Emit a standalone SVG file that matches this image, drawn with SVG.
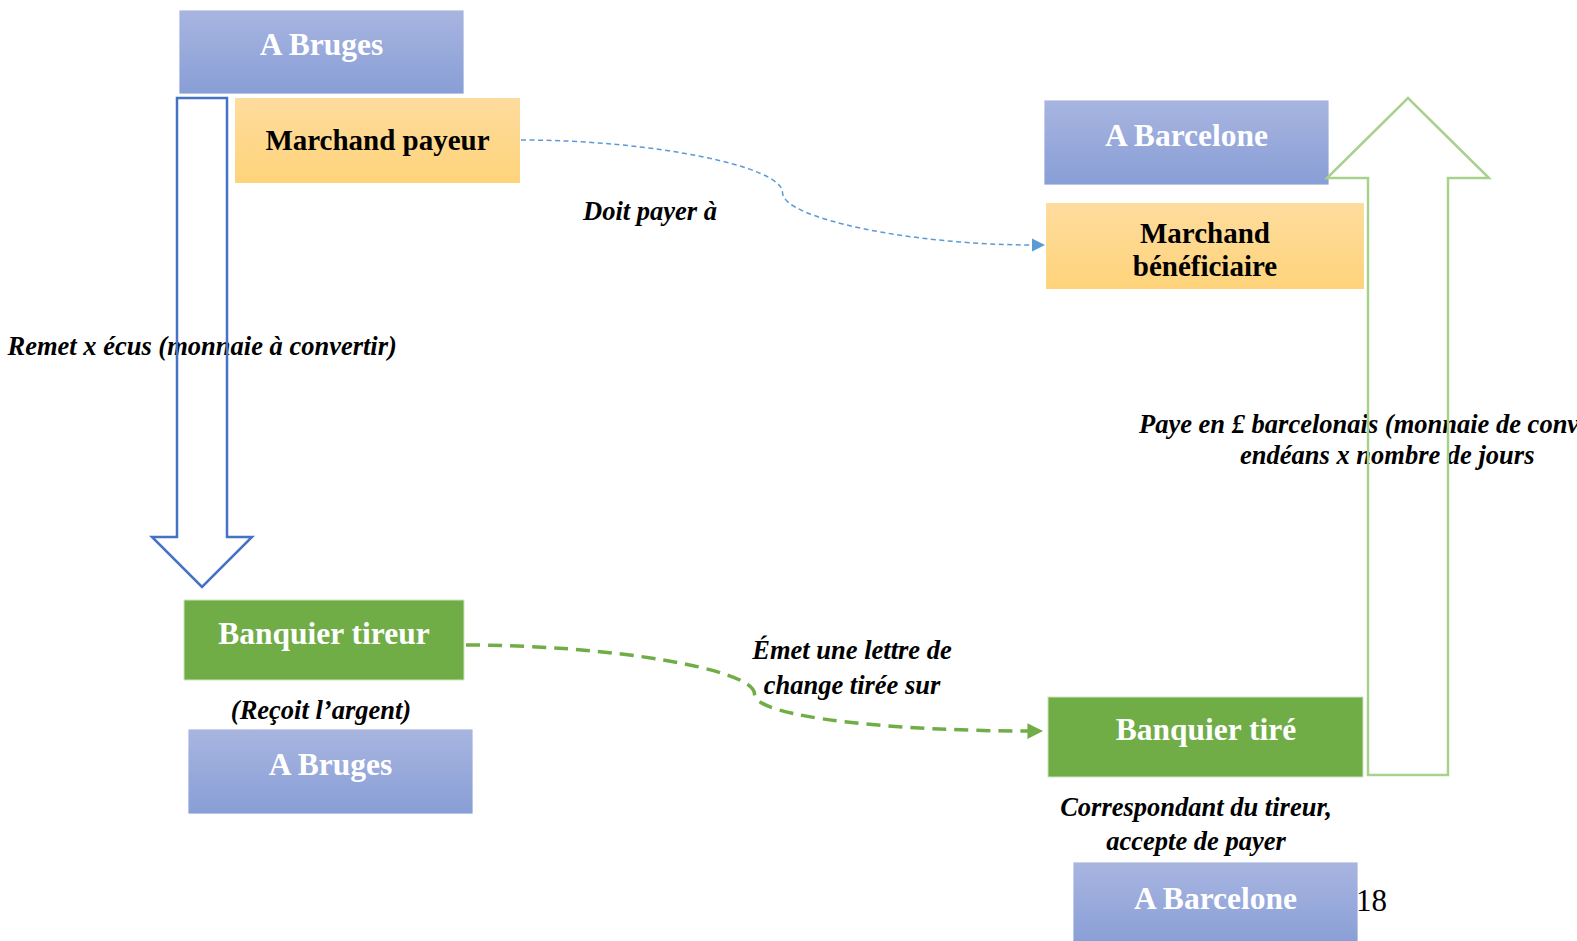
<svg xmlns="http://www.w3.org/2000/svg" width="1577" height="941" viewBox="0 0 1577 941">
<defs>
<linearGradient id="gBlue" x1="0" y1="0" x2="0" y2="1"><stop offset="0" stop-color="#a8b5e0"/><stop offset="1" stop-color="#889ed6"/></linearGradient>
<linearGradient id="gOrange" x1="0" y1="0" x2="0" y2="1"><stop offset="0" stop-color="#fedc9e"/><stop offset="1" stop-color="#fed37a"/></linearGradient>
<marker id="mBlue" viewBox="0 0 10 10" refX="1" refY="5" markerWidth="9" markerHeight="9" orient="auto" markerUnits="strokeWidth"><path d="M0,0 L10,5 L0,10 z" fill="#5b9bd5"/></marker>
<marker id="mGreen" viewBox="0 0 10 10" refX="1" refY="5" markerWidth="4.5" markerHeight="4.5" orient="auto" markerUnits="strokeWidth"><path d="M0,0 L10,5 L0,10 z" fill="#70ad47"/></marker>
<style>
.blue{fill:url(#gBlue);stroke:#ffffff;stroke-width:0.8}
.orange{fill:url(#gOrange)}
.green{fill:#70ad47;stroke:#cfe3c1;stroke-width:1}
.t{font-family:"Liberation Serif","Times New Roman",serif;font-weight:bold;text-anchor:middle}
.w{fill:#ffffff;font-size:31.5px}
.k{fill:#000000;font-size:29px}
.lab{font-family:"Liberation Serif","Times New Roman",serif;font-weight:bold;font-style:italic;font-size:26.5px;fill:#000000}
.n{font-family:"Liberation Serif","Times New Roman",serif;font-size:31px;fill:#000000}
</style>
</defs>
<rect width="1577" height="941" fill="#ffffff"/>

<g id="node-bruges-top"><rect class="blue" x="179" y="10" width="285" height="84"/><text class="t w" x="321.5" y="54.5">A Bruges</text></g>
<g id="node-marchand-payeur"><rect class="orange" x="235" y="98" width="285" height="85"/><text class="t k" x="377.5" y="150">Marchand payeur</text></g>
<g id="node-barcelone-top"><rect class="blue" x="1044" y="100" width="285" height="85"/><text class="t w" x="1186.5" y="146">A Barcelone</text></g>
<g id="node-marchand-beneficiaire"><rect class="orange" x="1046" y="203" width="318" height="86"/><text class="t k" x="1205" y="242.5">Marchand</text><text class="t k" x="1205" y="276">bénéficiaire</text></g>
<g id="node-banquier-tireur"><rect class="green" x="184" y="600" width="280" height="80"/><text class="t w" x="324" y="644">Banquier tireur</text></g>
<g id="node-bruges-bottom"><rect class="blue" x="188" y="729" width="285" height="85"/><text class="t w" x="330.5" y="775">A Bruges</text></g>
<g id="node-banquier-tire"><rect class="green" x="1048" y="697" width="315" height="80"/><text class="t w" x="1206" y="740">Banquier tiré</text></g>
<g id="node-barcelone-bottom"><rect class="blue" x="1073" y="862" width="285" height="85"/><text class="t w" x="1215.5" y="909">A Barcelone</text></g>

<g id="labels">
<text class="lab" x="7.5" y="355">Remet x écus (monnaie à convertir)</text>
<text class="lab" x="583" y="220">Doit payer à</text>
<text class="lab" x="852" y="659" text-anchor="middle">Émet une lettre de</text>
<text class="lab" x="852" y="694" text-anchor="middle">change tirée sur</text>
<text class="lab" x="321" y="719" text-anchor="middle">(Reçoit l’argent)</text>
<text class="lab" x="1196" y="816" text-anchor="middle">Correspondant du tireur,</text>
<text class="lab" x="1196" y="850" text-anchor="middle">accepte de payer</text>
<text class="lab" x="1139" y="433">Paye en £ barcelonais (monnaie de conversion)</text>
<text class="lab" x="1240" y="464">endéans x nombre de jours</text>
<text class="n" x="1356" y="911">18</text>
</g>

<g id="connectors" fill="none">
<path d="M177,98 L227,98 L227,537 L252,537 L202,587 L152,537 L177,537 Z" stroke="#4472c4" stroke-width="2.5"/>
<path d="M1368,775 L1368,178 L1327,178 L1408,98 L1489,178 L1448,178 L1448,775 Z" stroke="#a9d18e" stroke-width="2.5"/>
<path d="M521,140 C651.75,140 782.5,166.25 782.5,192.5 C782.5,218.75 913.25,245 1033,245" stroke="#5b9bd5" stroke-width="1.5" stroke-dasharray="5,3.5" marker-end="url(#mBlue)"/>
<path d="M466,645 C610,645 754.5,669 754.5,694 C754.5,718 898,731 1029,731" stroke="#70ad47" stroke-width="3.5" stroke-dasharray="14,8" marker-end="url(#mGreen)"/>
</g>
</svg>
